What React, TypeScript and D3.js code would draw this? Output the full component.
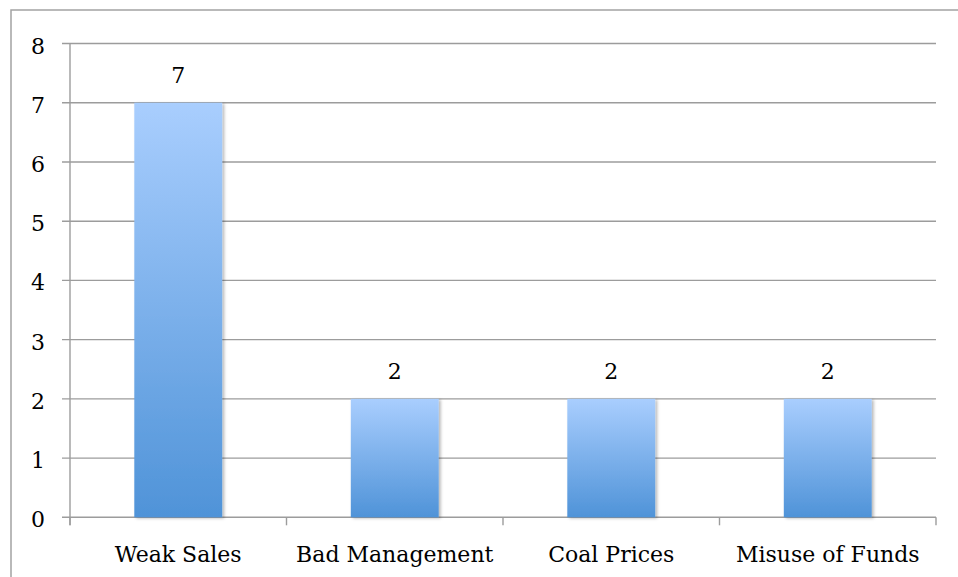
import React from "react";
import * as d3 from "d3";

// Reasons counted, one bar per category
const categories: string[] = ["Weak Sales", "Bad Management", "Coal Prices", "Misuse of Funds"];
const counts: number[] = [7, 2, 2, 2];
const yTicks: number[] = [0, 1, 2, 3, 4, 5, 6, 7, 8];

const W = 958;
const H = 577;
const plot = { left: 70, right: 936, top: 43.5, bottom: 517.3 };
const FONT = "'DejaVu Serif', serif";

export default function App() {
  const x = d3
    .scaleBand<string>()
    .domain(categories)
    .range([plot.left, plot.right])
    .paddingInner(0.594)
    .paddingOuter(0.297);
  const y = d3.scaleLinear().domain([0, 8]).range([plot.bottom, plot.top]);
  const step = x.step();

  return (
    <svg
      width={W}
      height={H}
      style={{ position: "absolute", left: 0, top: 0, background: "#fff" }}
    >
      <defs>
        <linearGradient id="barFill" x1="0" y1="0" x2="0" y2="1">
          <stop offset="0%" stopColor="#a9cefe" />
          <stop offset="100%" stopColor="#4f93d8" />
        </linearGradient>
        <filter id="barShadow" x="-20%" y="-10%" width="140%" height="120%">
          <feDropShadow dx="2" dy="1" stdDeviation="1.6" floodColor="#000" floodOpacity="0.28" />
        </filter>
      </defs>

      {/* chart frame */}
      <rect x={11} y={10} width={W} height={H} fill="none" stroke="#a3a3a3" strokeWidth={1.5} />

      {/* horizontal gridlines with tick stubs */}
      {yTicks.map((t) => (
        <g key={t}>
          <line
            x1={62}
            x2={plot.right}
            y1={y(t)}
            y2={y(t)}
            stroke="#9c9c9c"
            strokeWidth={1.4}
          />
          <text
            x={45}
            y={y(t) + 10}
            textAnchor="end"
            fontFamily={FONT}
            fontSize={22}
            fill="#000"
          >
            {t}
          </text>
        </g>
      ))}

      {/* value axis */}
      <line x1={plot.left} x2={plot.left} y1={plot.top} y2={plot.bottom + 8} stroke="#9c9c9c" strokeWidth={1.4} />

      {/* category ticks */}
      {d3.range(categories.length + 1).map((i) => (
        <line
          key={i}
          x1={plot.left + i * step}
          x2={plot.left + i * step}
          y1={plot.bottom}
          y2={plot.bottom + 8}
          stroke="#9c9c9c"
          strokeWidth={1.4}
        />
      ))}

      {/* bars */}
      {categories.map((c, i) => (
        <rect
          key={c}
          x={x(c)}
          y={y(counts[i])}
          width={x.bandwidth()}
          height={y(0) - y(counts[i])}
          fill="url(#barFill)"
          filter="url(#barShadow)"
        />
      ))}

      {/* value labels */}
      {categories.map((c, i) => (
        <text
          key={c}
          x={(x(c) as number) + x.bandwidth() / 2}
          y={y(counts[i]) - 20}
          textAnchor="middle"
          fontFamily={FONT}
          fontSize={22}
          fill="#000"
        >
          {counts[i]}
        </text>
      ))}

      {/* category labels */}
      {categories.map((c) => (
        <text
          key={c}
          x={(x(c) as number) + x.bandwidth() / 2}
          y={561.5}
          textAnchor="middle"
          fontFamily={FONT}
          fontSize={22}
          fill="#000"
        >
          {c}
        </text>
      ))}
    </svg>
  );
}
